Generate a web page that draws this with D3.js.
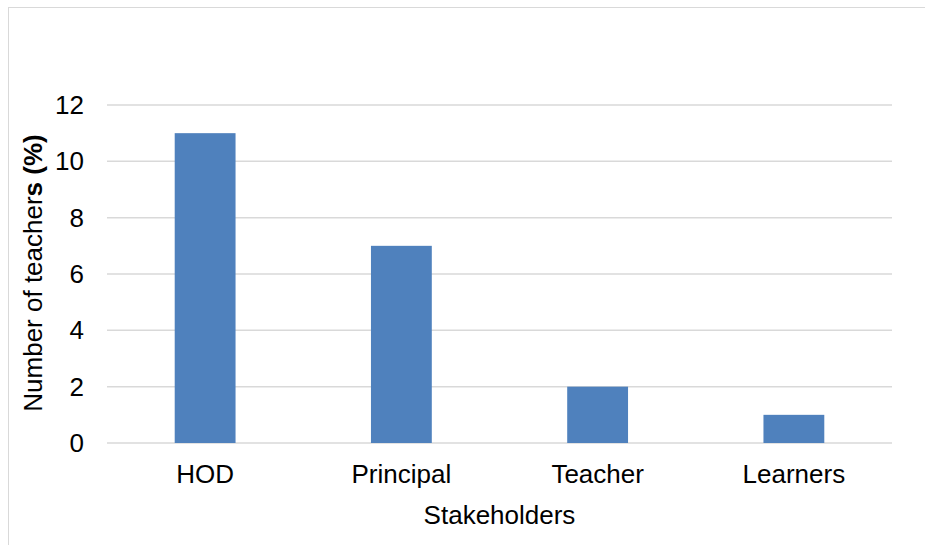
<!DOCTYPE html>
<html>
<head>
<meta charset="utf-8">
<script src="https://cdn.jsdelivr.net/npm/d3@7"></script>
<style>
  body { margin: 0; background: #fff; }
  svg { display: block; font-family: "Liberation Sans", Arial, sans-serif; }
</style>
</head>
<body>
<svg id="chart" width="925" height="545"></svg>
<script>
// chart data
const categories = ["HOD", "Principal", "Teacher", "Learners"];
const values = [11, 7, 2, 1];
const yTicks = [0, 2, 4, 6, 8, 10, 12];

const svg = d3.select("#chart");
const W = 925, H = 545;
const plot = { left: 107, right: 892, top: 105, bottom: 443 };
const FONT = "26px";

// outer frame
svg.append("rect")
  .attr("x", 8.5).attr("y", 7.5)
  .attr("width", W + 10).attr("height", H + 10)
  .style("fill", "none")
  .style("stroke", "#d9d9d9")
  .style("stroke-width", 1);

const x = d3.scaleBand().domain(categories).range([plot.left, plot.right]).padding(0);
const y = d3.scaleLinear().domain([0, 12]).range([plot.bottom, plot.top]);
const barW = x.bandwidth() * 0.31;

// gridlines
svg.append("g")
  .selectAll("line")
  .data(yTicks)
  .join("line")
  .attr("x1", plot.left).attr("x2", plot.right)
  .attr("y1", d => y(d)).attr("y2", d => y(d))
  .style("stroke", "#d9d9d9")
  .style("stroke-width", 1.5);

// y tick labels
svg.append("g")
  .selectAll("text")
  .data(yTicks)
  .join("text")
  .attr("x", 84)
  .attr("y", d => y(d))
  .attr("dy", "0.35em")
  .attr("text-anchor", "end")
  .style("font-size", FONT)
  .style("fill", "#000")
  .text(d => d);

// bars
svg.append("g")
  .selectAll("rect")
  .data(values)
  .join("rect")
  .attr("x", (d, i) => x(categories[i]) + x.bandwidth() / 2 - barW / 2)
  .attr("y", d => y(d))
  .attr("width", barW)
  .attr("height", d => y(0) - y(d))
  .style("fill", "#4f81bd");

// x tick labels
svg.append("g")
  .selectAll("text")
  .data(categories)
  .join("text")
  .attr("x", d => x(d) + x.bandwidth() / 2)
  .attr("y", 483)
  .attr("text-anchor", "middle")
  .style("font-size", FONT)
  .style("fill", "#000")
  .text(d => d);

// axis titles
svg.append("text")
  .attr("x", (plot.left + plot.right) / 2)
  .attr("y", 524)
  .attr("text-anchor", "middle")
  .style("font-size", FONT)
  .text("Stakeholders");

const yTitle = svg.append("text")
  .attr("transform", "translate(42,273) rotate(-90)")
  .attr("text-anchor", "middle")
  .style("font-size", FONT);
yTitle.append("tspan").text("Number of teacher");
yTitle.append("tspan").style("font-weight", "bold").text("s (%)");
</script>
</body>
</html>
